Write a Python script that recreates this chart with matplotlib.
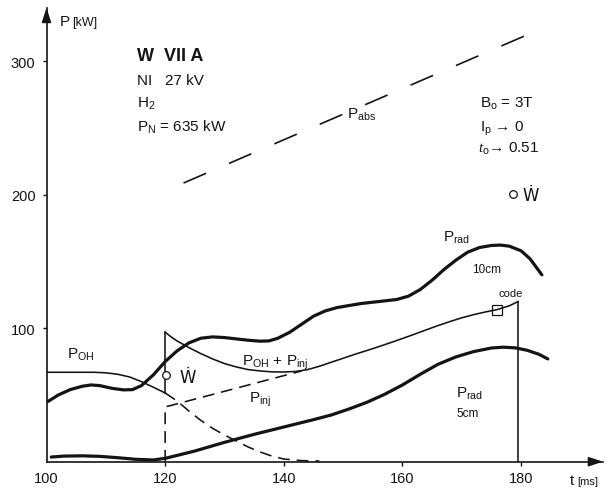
import matplotlib
matplotlib.use("Agg")
import matplotlib.pyplot as plt
from matplotlib.patches import FancyArrowPatch

plt.rcParams['font.family'] = ['Liberation Sans', 'DejaVu Sans']
plt.rcParams['mathtext.fontset'] = 'custom'
plt.rcParams['mathtext.rm'] = 'Liberation Sans'
plt.rcParams['mathtext.it'] = 'Liberation Serif:italic'
plt.rcParams['mathtext.default'] = 'regular'
plt.rcParams['lines.scale_dashes'] = False

# --- data (t in ms, P in kW) ---
# P_rad at 10 cm (upper thick curve)
t_rad10 = [100.2, 102, 104, 106, 107.5, 109, 111, 113, 114.5, 116, 118, 120, 122, 124, 126, 128, 130, 132, 134, 136,
           137.5, 139, 141, 143, 145, 147, 149, 151, 153, 155, 157, 159, 161, 163, 165, 167, 169, 171, 173, 175,
           176.5, 178, 180, 181.5, 182.5, 183.5]
p_rad10 = [45, 50, 54, 56.5, 57.5, 57, 55, 53.8, 54, 57, 65, 75, 83, 89, 92.5, 93.5, 93, 92, 91, 90.3,
           90.5, 92.5, 97, 103, 109, 113, 115.5, 117, 118.5, 119.5, 120.5, 121.5, 124, 129, 136, 144, 151, 157, 160.5, 162,
           162.3, 161.5, 158, 152, 146, 140]

# P_rad at 5 cm (lower thick curve)
t_rad5 = [100.8, 103, 106, 109, 112, 115, 118, 120, 125, 130, 135, 140, 145, 148, 151, 154, 157, 160, 163, 166,
          169, 172, 175, 177, 179, 181, 183, 184.5]
p_rad5 = [3.5, 4.2, 4.4, 4.0, 3.0, 1.8, 1.3, 2.5, 8, 14.5, 20.5, 26, 31.5, 35, 39.5, 44.5, 50.5, 57.5, 65.5, 73,
          78.5, 82.5, 85.2, 85.8, 85.3, 83.5, 80.5, 77]

# ohmic power before injection
t_oh = [100, 102, 104, 106, 108, 110, 112, 114, 116, 118, 120]
p_oh = [67, 67, 67, 67, 67, 66.6, 65.5, 63.5, 60, 55.8, 51.5]

# ohmic power decay after injection (dashed)
t_ohdec = [120, 122, 124, 126, 128, 130, 132, 134, 136, 138, 140, 143, 146]
p_ohdec = [51.5, 45.5, 38, 31, 25, 20, 15.5, 11, 7.3, 4.2, 2, 0.8, 0.5]

# P_OH + P_inj
t_ohinj = [120, 121, 122, 124, 126, 128, 130, 132, 134, 136, 138, 140, 142, 144, 146, 148, 150, 152, 154, 156,
           158, 160, 162, 164, 166, 168, 170, 172, 174, 176, 178, 179.5]
p_ohinj = [97, 93.5, 90.5, 85.5, 81, 77, 73.5, 71, 69, 68, 67.3, 67.2, 67.6, 69, 71.5, 74.5, 77.5, 80.5, 83.3, 86.2,
           89.2, 92.3, 95.5, 98.8, 102, 105, 107.8, 110.2, 112.2, 114, 116.8, 120]

# P_inj (dashed)
t_inj = [120, 120, 143]
p_inj = [0, 41, 68]

# P_abs (long dashes)
t_abs = [123.1, 180.9]
p_abs = [208.8, 319.6]

# W-dot points and code marker
t_wdot = [120.1, 178.6]
p_wdot = [65, 200.5]
t_code = [175.9]
p_code = [113.6]

xticks = [100, 120, 140, 160, 180]
yticks = [100, 200, 300]

ink = '#141414'

fig = plt.figure(figsize=(6.16, 4.89), dpi=100)
ax = fig.add_axes([46.5 / 616, 1 - 462.7 / 489, 556.5 / 616, 453.8 / 489])
ax.set_xlim(100, 193.8)
ax.set_ylim(0, 340)

for s in ['top', 'right']:
    ax.spines[s].set_visible(False)
for s in ['left', 'bottom']:
    ax.spines[s].set_linewidth(1.2)
    ax.spines[s].set_color(ink)

ax.set_xticks(xticks)
ax.set_yticks(yticks)
ax.tick_params(axis='both', direction='out', length=3, width=1, color=ink, labelsize=10.5, labelcolor=ink)
ax.tick_params(axis='x', pad=4)
ax.tick_params(axis='y', pad=5)
ax.xaxis.get_major_ticks()[0].tick1line.set_visible(False)

# axis arrows
for start, end in [((0.98, 0), (1, 0)), ((0, 0.98), (0, 1))]:
    ax.add_patch(FancyArrowPatch(start, end, transform=ax.transAxes, clip_on=False,
                                 arrowstyle='-|>,head_length=0.85,head_width=0.28',
                                 mutation_scale=10, color=ink, lw=1.2,
                                 shrinkA=0, shrinkB=0))

thick = 2.3
thin = 1.15

ax.plot(t_rad10, p_rad10, color=ink, lw=thick, solid_capstyle='round')
ax.plot(t_rad5, p_rad5, color=ink, lw=thick, solid_capstyle='round')
ax.plot(t_oh, p_oh, color=ink, lw=thin)
ax.plot([t_oh[-1], t_ohinj[0]], [p_oh[-1], p_ohinj[0]], color=ink, lw=thin)
ax.plot(t_ohinj, p_ohinj, color=ink, lw=thin)
ax.plot([t_ohinj[-1], t_ohinj[-1]], [p_ohinj[-1], 0], color=ink, lw=thin)
ax.plot(t_ohdec, p_ohdec, color=ink, lw=thin, dashes=(8.5, 5))
ax.plot(t_inj, p_inj, color=ink, lw=thin, dashes=(8.5, 5))
ax.plot(t_abs, p_abs, color=ink, lw=1.2, dashes=(17.6, 18))

ax.plot(t_wdot, p_wdot, 'o', ms=5.5, mfc='white', mec=ink, mew=0.9, ls='none')
ax.plot(t_code, p_code, 's', ms=7.5, mfc='none', mec=ink, mew=0.9, ls='none')

# texts
kw = dict(color=ink, ha='left', va='baseline', clip_on=False)
ax.text(115.2, 301, 'W  VII A', fontsize=13, fontweight='bold', **kw)
ax.text(115.2, 283, 'NI   27 kV', fontsize=11, **kw)
ax.text(115.2, 266, 'H$_2$', fontsize=11, **kw)
ax.text(115.2, 248.4, 'P$_N$ = 635 kW', fontsize=11, **kw)

ax.text(173.0, 266, 'B$_o$ = 3T', fontsize=11, **kw)
ax.text(173.0, 248.4, 'I$_p$ \u2192 0', fontsize=11, **kw)
ax.text(172.8, 232, r'$\mathit{t}_o$' + '\u2192 0.51', fontsize=11, **kw)
ax.text(180.2, 196, '\u1E86', fontsize=12, family=['DejaVu Sans'], **kw)
ax.text(122.4, 59.7, '\u1E86', fontsize=12, family=['DejaVu Sans'], **kw)

ax.text(150.6, 258, 'P$_{abs}$', fontsize=11, **kw)
ax.text(166.8, 166, 'P$_{rad}$', fontsize=11, **kw)
ax.text(171.8, 142, '10cm', fontsize=8.5, **kw)
ax.text(176.2, 124, 'code', fontsize=8, **kw)
ax.text(169.1, 49, 'P$_{rad}$', fontsize=11, **kw)
ax.text(169.1, 34, '5cm', fontsize=8.5, **kw)
ax.text(103.5, 78, 'P$_{OH}$', fontsize=11, **kw)
ax.text(133.0, 73, 'P$_{OH}$ + P$_{inj}$', fontsize=11, **kw)
ax.text(134.2, 44.7, 'P$_{inj}$', fontsize=11, **kw)

ax.text(102.2, 327, 'P', fontsize=11, **kw)
ax.text(104.3, 327, '[kW]', fontsize=9, **kw)
ax.text(188.2, -16.7, 't', fontsize=11, **kw)
ax.text(189.5, -16.7, '[ms]', fontsize=8, **kw)

fig.savefig('out.png', dpi=100, facecolor='white')
